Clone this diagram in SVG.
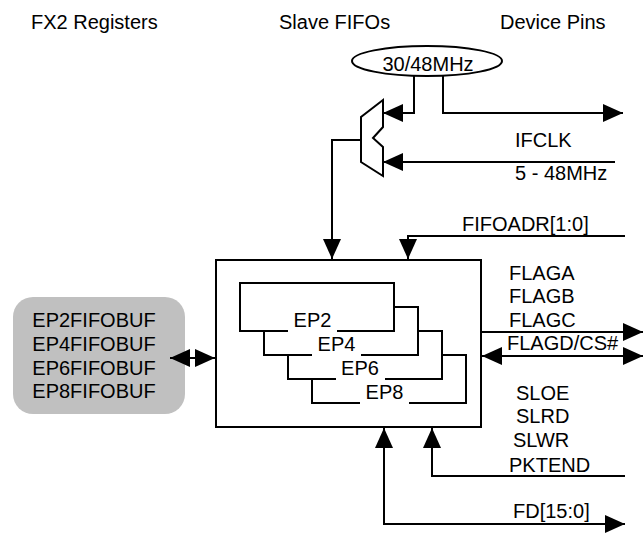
<svg xmlns="http://www.w3.org/2000/svg" width="643" height="534" viewBox="0 0 643 534">
<style>
text{font-family:"Liberation Sans",Arial,sans-serif;font-size:20px;fill:#000}
.s{fill:none;stroke:#000;stroke-width:2}
.w{fill:#fff;stroke:#000;stroke-width:2}
.m{text-anchor:middle}
.bg{fill:#fff;stroke:none}
</style>
<defs>
<marker id="ah" markerUnits="userSpaceOnUse" markerWidth="20" markerHeight="18" refX="20" refY="9" orient="auto-start-reverse">
<path d="M0,0 L20,9 L0,18 Z" fill="#000"/>
</marker>
</defs>
<rect width="643" height="534" fill="#fff"/>
<g id="headers">
<text x="31" y="29">FX2 Registers</text>
<text x="279" y="29">Slave FIFOs</text>
<text x="500" y="29">Device Pins</text>
</g>
<g id="osc">
<ellipse cx="427" cy="61" rx="75" ry="15" class="w"/>
<text x="428" y="71" class="m">30/48MHz</text>
</g>
<g id="mux">
<polygon points="383,100 361,117 361,162 383,176 383,147 373,138 383,127" class="w"/>
</g>
<g id="fx2regs">
<rect x="13" y="297" width="172" height="117" rx="20" ry="20" fill="#c0c0c0"/>
<text x="94" y="327" class="m">EP2FIFOBUF</text>
<text x="94" y="351" class="m">EP4FIFOBUF</text>
<text x="94" y="375" class="m">EP6FIFOBUF</text>
<text x="94" y="398" class="m">EP8FIFOBUF</text>
</g>
<g id="fifos">
<rect x="216" y="260" width="265" height="167" class="w"/>
<g id="ep8">
<rect x="312" y="355" width="154" height="48" class="w"/>
<rect x="360" y="384" width="49" height="22" class="bg"/>
<text x="384.5" y="399" class="m">EP8</text>
</g>
<g id="ep6">
<rect x="288" y="331" width="154" height="48" class="w"/>
<rect x="336" y="360" width="49" height="22" class="bg"/>
<text x="360" y="375" class="m">EP6</text>
</g>
<g id="ep4">
<rect x="264" y="307" width="154" height="48" class="w"/>
<rect x="312" y="336" width="49" height="22" class="bg"/>
<text x="336.5" y="351" class="m">EP4</text>
</g>
<g id="ep2">
<rect x="240" y="283" width="154" height="48" class="w"/>
<rect x="288" y="312" width="49" height="22" class="bg"/>
<text x="312.5" y="327" class="m">EP2</text>
</g>
</g>
<g id="pins">
<text x="515" y="147">IFCLK</text>
<text x="515" y="180">5 - 48MHz</text>
<text x="462" y="231">FIFOADR[1:0]</text>
<text x="509" y="280">FLAGA</text>
<text x="509" y="303">FLAGB</text>
<text x="509" y="327">FLAGC</text>
<text x="507" y="350">FLAGD/CS#</text>
<text x="516" y="400">SLOE</text>
<text x="516" y="423">SLRD</text>
<text x="513" y="447">SLWR</text>
<text x="509" y="472">PKTEND</text>
<text x="513" y="518">FD[15:0]</text>
</g>
<g id="connectors" class="s">
<path d="M414,76 V113 H383" marker-end="url(#ah)"/>
<path d="M443,76 V113 H623" marker-end="url(#ah)"/>
<path d="M615,162 H383" marker-end="url(#ah)"/>
<path d="M361,140 H332 V259" marker-end="url(#ah)"/>
<path d="M625,236 H408 V259" marker-end="url(#ah)"/>
<path d="M482,332 H643" marker-end="url(#ah)"/>
<path d="M482,356 H643" marker-start="url(#ah)" marker-end="url(#ah)"/>
<path d="M384,428 V524 H625" marker-start="url(#ah)" marker-end="url(#ah)"/>
<path d="M625,476 H432 V428" marker-end="url(#ah)"/>
<path d="M170,358 H215" marker-start="url(#ah)" marker-end="url(#ah)"/>
</g>
</svg>
